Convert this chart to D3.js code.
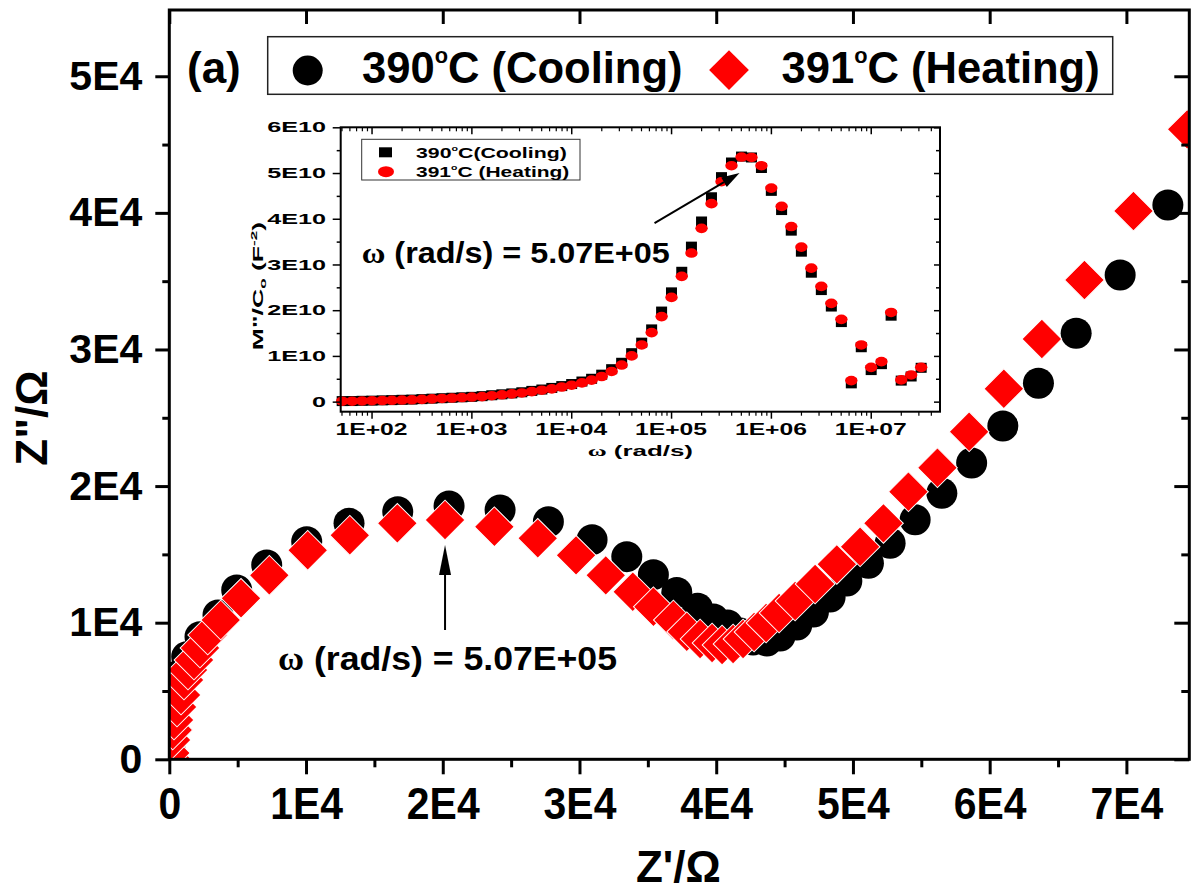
<!DOCTYPE html>
<html>
<head>
<meta charset="utf-8">
<script src="https://cdn.jsdelivr.net/npm/d3@7"></script>
<style>
body { margin: 0; background: #fff; }
svg { display: block; font-family: "Liberation Sans", Arial, sans-serif; font-weight: bold; }
</style>
</head>
<body>
<svg id="chart" width="1197" height="891"></svg>
<script>
// ---- main Nyquist plot: Z' and Z'' (ohm) ----
const coolZre = [51, 88, 124, 161, 234, 417, 1273, 2246, 3562, 4930, 7125, 10051, 13145, 16708, 20461,
    24192, 27725, 30921, 33460, 35405, 37117, 38638, 39794, 40833, 41747, 42698, 43700, 44673, 45894,
    47109, 48330, 49552, 51132, 52719, 54548, 56501, 58681, 60963, 63567, 66325, 69543, 73033];
const coolZim = [681, 1779, 2877, 3975, 5073, 6046, 7510, 8974, 10563, 12393, 14223, 15928, 17274, 18124, 18541,
    18248, 17392, 16080, 14835, 13518, 12210, 11053, 10270, 9831, 9245, 8733, 8660, 9026, 9831,
    10783, 11881, 13052, 14348, 15812, 17540, 19471, 21689, 24398, 27523, 31183, 35451, 40575];
const heatZre = [73, 73, 124, 249, 344, 563, 856, 1075, 1368, 1807, 2246, 2809, 3760, 5245, 7315, 10124,
    13202, 16678, 20167, 23774, 26949, 29750, 31923, 33898, 35405, 36868, 37848, 38821, 39699, 40430,
    41235, 41966, 42771, 43649, 44600, 45770, 47233, 48821, 50525, 52230, 54058, 56180, 58498, 61036,
    63816, 66932, 70517, 74446];
const heatZim = [95, 461, 1413, 2145, 2877, 3828, 4707, 5805, 6537, 7269, 8147, 9099, 10197, 11785, 13470, 15300,
    16398, 17275, 17516, 17026, 16177, 14933, 13468, 12268, 11170, 10197, 9340, 8806, 8513, 8367,
    8440, 8806, 9318, 9977, 10709, 11587, 12831, 14274, 15562, 17275, 19588, 21345, 23980, 27128,
    30766, 35085, 40136, 46116];
const mainXTicks = [0, 10000, 20000, 30000, 40000, 50000, 60000, 70000];
const mainYTicks = [0, 10000, 20000, 30000, 40000, 50000];

// ---- inset: M''/Co (units of 1E10) versus omega (rad/s) ----
const omega = [50.8, 63.9, 80.4, 101, 128, 160, 202, 254, 320, 403, 508, 639, 804, 1010, 1280, 1600,
    2020, 2540, 3200, 4030, 5080, 6390, 8040, 10100, 12800, 16000, 20200, 25400, 32000, 40300, 50800,
    63900, 80400, 101000, 128000, 160000, 202000, 254000, 320000, 403000, 508000, 639000, 804000,
    1010000, 1280000, 1600000, 2020000, 2540000, 3200000, 4030000, 5080000, 6390000, 8040000,
    10100000, 12800000, 16000000, 20200000, 25400000, 32000000];
const coolM = [0.012, 0.013, 0.018, 0.022, 0.028, 0.033, 0.04, 0.045, 0.055, 0.065, 0.075, 0.085, 0.095,
    0.105, 0.12, 0.14, 0.16, 0.18, 0.205, 0.235, 0.265, 0.30, 0.34, 0.385, 0.44, 0.50, 0.59, 0.71, 0.85,
    1.06, 1.29, 1.58, 1.97, 2.39, 2.84, 3.39, 3.94, 4.47, 4.91, 5.23, 5.36, 5.34, 5.11, 4.61, 4.19, 3.74,
    3.28, 2.82, 2.44, 2.08, 1.74, 0.40, 1.19, 0.69, 0.82, 1.88, 0.46, 0.55, 0.74];
const heatM = [0.01, 0.01, 0.015, 0.02, 0.025, 0.03, 0.035, 0.04, 0.05, 0.06, 0.07, 0.08, 0.09, 0.10,
    0.11, 0.13, 0.15, 0.17, 0.19, 0.22, 0.25, 0.28, 0.32, 0.36, 0.41, 0.47, 0.55, 0.66, 0.80, 1.00, 1.24,
    1.51, 1.86, 2.28, 2.74, 3.25, 3.79, 4.33, 4.81, 5.16, 5.35, 5.34, 5.16, 4.67, 4.27, 3.83, 3.38, 2.92,
    2.52, 2.15, 1.80, 0.46, 1.24, 0.75, 0.875, 1.95, 0.475, 0.584, 0.75];
const insetXTicks = [1e2, 1e3, 1e4, 1e5, 1e6, 1e7];
const insetXLabels = ['1E+02', '1E+03', '1E+04', '1E+05', '1E+06', '1E+07'];
const insetYTicks = [0, 1, 2, 3, 4, 5, 6];
const peakIndex = 40;   // omega = 5.07E+05
const mainPeakIndex = 18;

const svg = d3.select('#chart');

const pl = { left: 169.3, right: 1189.3, top: 10, bottom: 759.3 };
const x = d3.scaleLinear().domain([0, 74600]).range([pl.left, pl.right]);
const y = d3.scaleLinear().domain([0, 54850]).range([pl.bottom, pl.top]);

svg.append('defs').append('clipPath').attr('id', 'clipMain')
    .append('rect').attr('x', pl.left).attr('y', pl.top)
    .attr('width', pl.right - pl.left).attr('height', pl.bottom - pl.top);

// markers
const marks = svg.append('g').attr('clip-path', 'url(#clipMain)');
marks.selectAll('circle').data(d3.zip(coolZre, coolZim)).join('circle')
    .attr('cx', d => x(d[0])).attr('cy', d => y(d[1])).attr('r', 15.5)
    .attr('fill', '#000');
const diamond = d3.symbol(d3.symbolSquare, 790);
marks.selectAll('path').data(d3.zip(heatZre, heatZim)).join('path')
    .attr('d', diamond)
    .attr('transform', d => `translate(${x(d[0])},${y(d[1])}) rotate(45)`)
    .attr('fill', '#ff0000').attr('stroke', '#fff').attr('stroke-width', 1);

// axes
function styleAxis(g, w) {
    g.attr('font-family', null).attr('font-size', null);
    g.select('.domain').remove();
    g.selectAll('.tick line').attr('stroke', '#000').attr('stroke-width', w);
    g.selectAll('.tick text').attr('fill', '#000');
}
const minorX = d3.range(5000, 74600, 10000);
const minorY = d3.range(5000, 54850, 10000);

const gx = svg.append('g').attr('transform', `translate(0,${pl.bottom})`)
    .call(d3.axisBottom(x).tickValues(mainXTicks).tickSize(15).tickPadding(13)
        .tickFormat(d => d === 0 ? '0' : `${d / 1e4}E4`));
styleAxis(gx, 3);
gx.selectAll('.tick text').attr('font-size', 44).attr('transform', 'scale(0.93,1)');
styleAxis(svg.append('g').attr('transform', `translate(0,${pl.bottom})`)
    .call(d3.axisBottom(x).tickValues(minorX).tickSize(8).tickFormat('')), 3);

const gy = svg.append('g').attr('transform', `translate(${pl.left},0)`)
    .call(d3.axisLeft(y).tickValues(mainYTicks).tickSize(14).tickPadding(13)
        .tickFormat(d => d === 0 ? '0' : `${d / 1e4}E4`));
styleAxis(gy, 3);
gy.selectAll('.tick text').attr('font-size', 41);
styleAxis(svg.append('g').attr('transform', `translate(${pl.left},0)`)
    .call(d3.axisLeft(y).tickValues(minorY).tickSize(7).tickFormat('')), 3);

styleAxis(svg.append('g').attr('transform', `translate(0,${pl.top})`)
    .call(d3.axisBottom(x).tickValues(mainXTicks).tickSize(14).tickFormat('')), 3);
styleAxis(svg.append('g').attr('transform', `translate(${pl.right},0)`)
    .call(d3.axisLeft(y).tickValues(mainYTicks).tickSize(15).tickFormat('')), 3);
styleAxis(svg.append('g').attr('transform', `translate(${pl.right},0)`)
    .call(d3.axisLeft(y).tickValues(minorY).tickSize(8).tickFormat('')), 3);

svg.append('rect').attr('x', pl.left).attr('y', pl.top)
    .attr('width', pl.right - pl.left).attr('height', pl.bottom - pl.top)
    .attr('fill', 'none').attr('stroke', '#000').attr('stroke-width', 3);

// axis titles
svg.append('text').attr('x', (pl.left + pl.right) / 2 - 1).attr('y', 882)
    .attr('text-anchor', 'middle').attr('font-size', 44).text("Z'/Ω");
svg.append('text').attr('transform', 'translate(47,418) rotate(-90)')
    .attr('text-anchor', 'middle').attr('font-size', 44).text('Z"/Ω');

// legend
function degText(g, x0, y0, fs, pre, post, sx) {
    const t = g.append('text').attr('transform', `translate(${x0},${y0}) scale(${sx},1)`)
        .attr('font-size', fs);
    t.append('tspan').text(pre);
    t.append('tspan').attr('font-size', fs * 0.5).attr('dy', -fs * 0.46).text('o');
    t.append('tspan').attr('dy', fs * 0.46).text(post);
    return t;
}
const leg = svg.append('g');
leg.append('text').attr('x', 187).attr('y', 83).attr('font-size', 44).text('(a)');
leg.append('rect').attr('x', 267.7).attr('y', 36.7).attr('width', 845).attr('height', 57.6)
    .attr('fill', '#fff').attr('stroke', '#222').attr('stroke-width', 1.5);
leg.append('circle').attr('cx', 307.7).attr('cy', 70.5).attr('r', 15).attr('fill', '#000');
degText(leg, 362, 83, 44, '390', 'C (Cooling)', 0.99);
leg.append('path').attr('d', d3.symbol(d3.symbolSquare, 790))
    .attr('transform', 'translate(729,70) rotate(45)').attr('fill', '#ff0000');
degText(leg, 781.5, 83, 44, '391', 'C (Heating)', 0.99);

// main annotation
const mpx = x(heatZre[mainPeakIndex]), mpy = y(heatZim[mainPeakIndex]);
svg.append('line').attr('x1', mpx).attr('x2', mpx).attr('y1', mpy + 110).attr('y2', mpy + 45)
    .attr('stroke', '#000').attr('stroke-width', 2);
svg.append('path').attr('d', `M${mpx},${mpy + 25}L${mpx - 6},${mpy + 55}L${mpx + 6},${mpy + 55}Z`)
    .attr('fill', '#000');
function omegaText(x0, y0, fs, len) {
    const t = svg.append('text').attr('x', x0).attr('y', y0).attr('font-size', fs)
        .attr('textLength', len).attr('lengthAdjust', 'spacingAndGlyphs');
    t.append('tspan').attr('font-family', '"Liberation Serif", serif').text('ω');
    t.append('tspan').text(' (rad/s) = 5.07E+05');
}
omegaText(278, 670, 33, 339);

// ---- inset ----
const ip = { left: 340.7, right: 940, top: 127.3, bottom: 411.7 };
const ix = d3.scaleLog().domain([49.1, 4.94e7]).range([ip.left, ip.right]);
const iy = d3.scaleLinear().domain([-0.22, 6]).range([ip.bottom, ip.top]);
const ins = svg.append('g');
ins.append('rect').attr('x', ip.left).attr('y', ip.top)
    .attr('width', ip.right - ip.left).attr('height', ip.bottom - ip.top).attr('fill', '#fff');

const insMarks = ins.append('g');
insMarks.selectAll('rect').data(d3.zip(omega, coolM)).join('rect')
    .attr('x', d => ix(d[0]) - 5.5).attr('y', d => iy(d[1]) - 5)
    .attr('width', 11).attr('height', 10).attr('fill', '#000');
insMarks.selectAll('ellipse').data(d3.zip(omega, heatM)).join('ellipse')
    .attr('cx', d => ix(d[0])).attr('cy', d => iy(d[1]))
    .attr('rx', 6.2).attr('ry', 4.8).attr('fill', '#ff0000');

const iMinorX = ix.ticks().filter(v => !insetXTicks.includes(v));
const iMinorY = d3.range(0.5, 6, 1);
styleAxis(ins.append('g').attr('transform', `translate(0,${ip.bottom})`)
    .call(d3.axisBottom(ix).tickValues(insetXTicks).tickSize(7).tickFormat('')), 1.5);
styleAxis(ins.append('g').attr('transform', `translate(0,${ip.bottom})`)
    .call(d3.axisBottom(ix).tickValues(iMinorX).tickSize(4).tickFormat('')), 1.2);
styleAxis(ins.append('g').attr('transform', `translate(0,${ip.top})`)
    .call(d3.axisBottom(ix).tickValues(insetXTicks).tickSize(7).tickFormat('')), 1.5);
styleAxis(ins.append('g').attr('transform', `translate(0,${ip.top})`)
    .call(d3.axisBottom(ix).tickValues(iMinorX).tickSize(4).tickFormat('')), 1.2);
styleAxis(ins.append('g').attr('transform', `translate(${ip.left},0)`)
    .call(d3.axisLeft(iy).tickValues(insetYTicks).tickSize(8).tickFormat('')), 1.5);
styleAxis(ins.append('g').attr('transform', `translate(${ip.left},0)`)
    .call(d3.axisLeft(iy).tickValues(iMinorY).tickSize(4).tickFormat('')), 1.5);
styleAxis(ins.append('g').attr('transform', `translate(${ip.right},0)`)
    .call(d3.axisLeft(iy).tickValues(insetYTicks).tickSize(6).tickFormat('')), 1.5);
styleAxis(ins.append('g').attr('transform', `translate(${ip.right},0)`)
    .call(d3.axisLeft(iy).tickValues(iMinorY).tickSize(4).tickFormat('')), 1.5);
ins.append('rect').attr('x', ip.left).attr('y', ip.top)
    .attr('width', ip.right - ip.left).attr('height', ip.bottom - ip.top)
    .attr('fill', 'none').attr('stroke', '#000').attr('stroke-width', 2);

ins.selectAll('.iyl').data(insetYTicks).join('text').attr('class', 'iyl')
    .attr('transform', d => `translate(${ip.left - 14.7},${iy(d)}) scale(1.8,1)`)
    .attr('text-anchor', 'end').attr('dy', '0.36em').attr('font-size', 14)
    .text(d => d === 0 ? '0' : `${d}E10`);
ins.selectAll('.ixl').data(insetXTicks).join('text').attr('class', 'ixl')
    .attr('transform', d => `translate(${ix(d)},435) scale(1.54,1)`)
    .attr('text-anchor', 'middle').attr('font-size', 16)
    .text((d, i) => insetXLabels[i]);

// inset axis titles
const ixt = ins.append('text').attr('transform', `translate(${(ip.left + ip.right) / 2},456) scale(1.85,1)`)
    .attr('text-anchor', 'middle').attr('font-size', 14);
ixt.append('tspan').attr('font-family', '"Liberation Serif", serif').text('ω');
ixt.append('tspan').text(' (rad/s)');
const iyt = ins.append('text')
    .attr('transform', 'translate(263,286) rotate(-90) scale(1.9,1)')
    .attr('text-anchor', 'middle').attr('font-size', 14);
iyt.append('tspan').text('M"/C');
iyt.append('tspan').attr('font-size', 9).attr('dy', 3).text('o');
iyt.append('tspan').attr('dy', -3).text(' (F');
iyt.append('tspan').attr('font-size', 9).attr('dy', -6).text('-2');
iyt.append('tspan').attr('dy', 6).text(')');

// inset legend
ins.append('rect').attr('x', 361.7).attr('y', 139.3).attr('width', 218.3).attr('height', 40.7)
    .attr('fill', '#fff').attr('stroke', '#333').attr('stroke-width', 1);
ins.append('rect').attr('x', 379).attr('y', 147.3).attr('width', 13).attr('height', 10).attr('fill', '#000');
ins.append('ellipse').attr('cx', 386).attr('cy', 171.7).attr('rx', 8).attr('ry', 5.5).attr('fill', '#ff0000');
degText(ins, 416, 157.7, 15, '390', 'C(Cooling)', 1.42);
degText(ins, 416, 176.7, 15, '391', 'C (Heating)', 1.4);

// inset annotation
const ipx = ix(omega[peakIndex]), ipy = iy(heatM[peakIndex]);
const tip = [ipx - 2, ipy + 16], tail = [ipx - 87, ipy + 66];
const ang = Math.atan2(tip[1] - tail[1], tip[0] - tail[0]);
const hl = 18, hw = 5.5;
const bx = tip[0] - hl * Math.cos(ang), by = tip[1] - hl * Math.sin(ang);
svg.append('line').attr('x1', tail[0]).attr('y1', tail[1]).attr('x2', bx).attr('y2', by)
    .attr('stroke', '#000').attr('stroke-width', 2);
svg.append('path').attr('d', `M${tip[0]},${tip[1]}L${bx + hw * Math.sin(ang)},${by - hw * Math.cos(ang)}L${bx - hw * Math.sin(ang)},${by + hw * Math.cos(ang)}Z`)
    .attr('fill', '#000');
omegaText(361.7, 263.3, 30, 308);
</script>
</body>
</html>
